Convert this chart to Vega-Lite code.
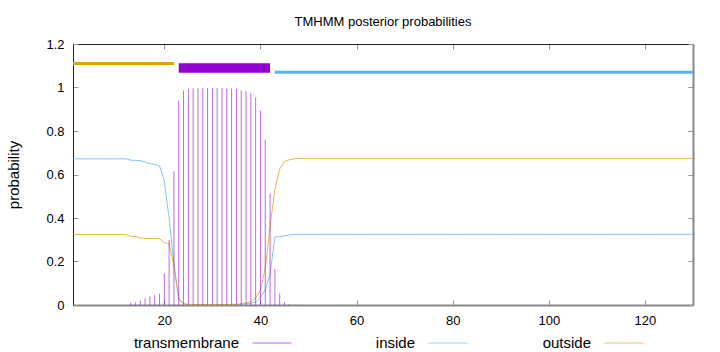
{
  "$schema": "https://vega.github.io/schema/vega-lite/v6.json",
  "width": 620,
  "height": 261,
  "autosize": {"type": "none"},
  "padding": {"left": 73, "top": 44, "right": 27, "bottom": 47},
  "background": "white",
  "title": {"text": "TMHMM posterior probabilities", "font": "Liberation Sans", "fontSize": 13, "fontWeight": "normal", "color": "black", "anchor": "middle", "offset": 9},
  "config": {
    "view": {"stroke": null},
    "axis": {"labelFont": "Liberation Sans", "labelFontSize": 13, "labelColor": "black", "titleFont": "Liberation Sans", "titleFontSize": 15, "titleFontWeight": "normal", "titleColor": "black", "grid": false, "tickColor": "#999", "tickSize": -5, "labelPadding": 14}
  },
  "datasets": {
    "segs": [
      {"series": "outside", "start": 1, "end": 22, "level": 1.11},
      {"series": "transmembrane", "start": 23, "end": 42, "level": 1.09},
      {"series": "inside", "start": 43, "end": 130, "level": 1.07}
    ],
    "probs": [
      {"pos": 1, "transmembrane": 0, "inside": 0.672, "outside": 0.324},
      {"pos": 2, "transmembrane": 0, "inside": 0.672, "outside": 0.324},
      {"pos": 3, "transmembrane": 0, "inside": 0.672, "outside": 0.324},
      {"pos": 4, "transmembrane": 0, "inside": 0.672, "outside": 0.324},
      {"pos": 5, "transmembrane": 0, "inside": 0.672, "outside": 0.324},
      {"pos": 6, "transmembrane": 0, "inside": 0.672, "outside": 0.324},
      {"pos": 7, "transmembrane": 0, "inside": 0.672, "outside": 0.324},
      {"pos": 8, "transmembrane": 0, "inside": 0.672, "outside": 0.324},
      {"pos": 9, "transmembrane": 0, "inside": 0.672, "outside": 0.324},
      {"pos": 10, "transmembrane": 0, "inside": 0.672, "outside": 0.324},
      {"pos": 11, "transmembrane": 0, "inside": 0.672, "outside": 0.324},
      {"pos": 12, "transmembrane": 0, "inside": 0.672, "outside": 0.323},
      {"pos": 13, "transmembrane": 0.010, "inside": 0.666, "outside": 0.316},
      {"pos": 14, "transmembrane": 0.012, "inside": 0.665, "outside": 0.315},
      {"pos": 15, "transmembrane": 0.020, "inside": 0.664, "outside": 0.309},
      {"pos": 16, "transmembrane": 0.030, "inside": 0.658, "outside": 0.306},
      {"pos": 17, "transmembrane": 0.040, "inside": 0.650, "outside": 0.306},
      {"pos": 18, "transmembrane": 0.045, "inside": 0.646, "outside": 0.306},
      {"pos": 19, "transmembrane": 0.052, "inside": 0.640, "outside": 0.305},
      {"pos": 20, "transmembrane": 0.145, "inside": 0.570, "outside": 0.286},
      {"pos": 21, "transmembrane": 0.300, "inside": 0.400, "outside": 0.283},
      {"pos": 22, "transmembrane": 0.615, "inside": 0.190, "outside": 0.180},
      {"pos": 23, "transmembrane": 0.940, "inside": 0.030, "outside": 0.025},
      {"pos": 24, "transmembrane": 0.986, "inside": 0.006, "outside": 0.005},
      {"pos": 25, "transmembrane": 0.995, "inside": 0.002, "outside": 0.002},
      {"pos": 26, "transmembrane": 0.996, "inside": 0.001, "outside": 0.001},
      {"pos": 27, "transmembrane": 0.997, "inside": 0.001, "outside": 0.001},
      {"pos": 28, "transmembrane": 0.998, "inside": 0.001, "outside": 0.001},
      {"pos": 29, "transmembrane": 0.998, "inside": 0.001, "outside": 0.001},
      {"pos": 30, "transmembrane": 0.998, "inside": 0.001, "outside": 0.001},
      {"pos": 31, "transmembrane": 0.997, "inside": 0.001, "outside": 0.001},
      {"pos": 32, "transmembrane": 0.997, "inside": 0.001, "outside": 0.001},
      {"pos": 33, "transmembrane": 0.996, "inside": 0.001, "outside": 0.002},
      {"pos": 34, "transmembrane": 0.995, "inside": 0.001, "outside": 0.003},
      {"pos": 35, "transmembrane": 0.994, "inside": 0.002, "outside": 0.003},
      {"pos": 36, "transmembrane": 0.986, "inside": 0.003, "outside": 0.006},
      {"pos": 37, "transmembrane": 0.983, "inside": 0.005, "outside": 0.010},
      {"pos": 38, "transmembrane": 0.974, "inside": 0.008, "outside": 0.016},
      {"pos": 39, "transmembrane": 0.954, "inside": 0.014, "outside": 0.030},
      {"pos": 40, "transmembrane": 0.894, "inside": 0.035, "outside": 0.070},
      {"pos": 41, "transmembrane": 0.761, "inside": 0.070, "outside": 0.170},
      {"pos": 42, "transmembrane": 0.513, "inside": 0.140, "outside": 0.360},
      {"pos": 43, "transmembrane": 0.166, "inside": 0.312, "outside": 0.530},
      {"pos": 44, "transmembrane": 0.053, "inside": 0.315, "outside": 0.625},
      {"pos": 45, "transmembrane": 0.013, "inside": 0.318, "outside": 0.660},
      {"pos": 46, "transmembrane": 0.004, "inside": 0.322, "outside": 0.668},
      {"pos": 47, "transmembrane": 0.002, "inside": 0.324, "outside": 0.672},
      {"pos": 48, "transmembrane": 0.001, "inside": 0.325, "outside": 0.674},
      {"pos": 49, "transmembrane": 0, "inside": 0.325, "outside": 0.674},
      {"pos": 50, "transmembrane": 0, "inside": 0.325, "outside": 0.674},
      {"pos": 51, "transmembrane": 0, "inside": 0.325, "outside": 0.674},
      {"pos": 52, "transmembrane": 0, "inside": 0.325, "outside": 0.674},
      {"pos": 53, "transmembrane": 0, "inside": 0.325, "outside": 0.674},
      {"pos": 54, "transmembrane": 0, "inside": 0.325, "outside": 0.674},
      {"pos": 55, "transmembrane": 0, "inside": 0.325, "outside": 0.674},
      {"pos": 56, "transmembrane": 0, "inside": 0.325, "outside": 0.674},
      {"pos": 57, "transmembrane": 0, "inside": 0.325, "outside": 0.674},
      {"pos": 58, "transmembrane": 0, "inside": 0.325, "outside": 0.674},
      {"pos": 59, "transmembrane": 0, "inside": 0.325, "outside": 0.674},
      {"pos": 60, "transmembrane": 0, "inside": 0.325, "outside": 0.674},
      {"pos": 61, "transmembrane": 0, "inside": 0.325, "outside": 0.674},
      {"pos": 62, "transmembrane": 0, "inside": 0.325, "outside": 0.674},
      {"pos": 63, "transmembrane": 0, "inside": 0.325, "outside": 0.674},
      {"pos": 64, "transmembrane": 0, "inside": 0.325, "outside": 0.674},
      {"pos": 65, "transmembrane": 0, "inside": 0.325, "outside": 0.674},
      {"pos": 66, "transmembrane": 0, "inside": 0.325, "outside": 0.674},
      {"pos": 67, "transmembrane": 0, "inside": 0.325, "outside": 0.674},
      {"pos": 68, "transmembrane": 0, "inside": 0.325, "outside": 0.674},
      {"pos": 69, "transmembrane": 0, "inside": 0.325, "outside": 0.674},
      {"pos": 70, "transmembrane": 0, "inside": 0.325, "outside": 0.674},
      {"pos": 71, "transmembrane": 0, "inside": 0.325, "outside": 0.674},
      {"pos": 72, "transmembrane": 0, "inside": 0.325, "outside": 0.674},
      {"pos": 73, "transmembrane": 0, "inside": 0.325, "outside": 0.674},
      {"pos": 74, "transmembrane": 0, "inside": 0.325, "outside": 0.674},
      {"pos": 75, "transmembrane": 0, "inside": 0.325, "outside": 0.674},
      {"pos": 76, "transmembrane": 0, "inside": 0.325, "outside": 0.674},
      {"pos": 77, "transmembrane": 0, "inside": 0.325, "outside": 0.674},
      {"pos": 78, "transmembrane": 0, "inside": 0.325, "outside": 0.674},
      {"pos": 79, "transmembrane": 0, "inside": 0.325, "outside": 0.674},
      {"pos": 80, "transmembrane": 0, "inside": 0.325, "outside": 0.674},
      {"pos": 81, "transmembrane": 0, "inside": 0.325, "outside": 0.674},
      {"pos": 82, "transmembrane": 0, "inside": 0.325, "outside": 0.674},
      {"pos": 83, "transmembrane": 0, "inside": 0.325, "outside": 0.674},
      {"pos": 84, "transmembrane": 0, "inside": 0.325, "outside": 0.674},
      {"pos": 85, "transmembrane": 0, "inside": 0.325, "outside": 0.674},
      {"pos": 86, "transmembrane": 0, "inside": 0.325, "outside": 0.674},
      {"pos": 87, "transmembrane": 0, "inside": 0.325, "outside": 0.674},
      {"pos": 88, "transmembrane": 0, "inside": 0.325, "outside": 0.674},
      {"pos": 89, "transmembrane": 0, "inside": 0.325, "outside": 0.674},
      {"pos": 90, "transmembrane": 0, "inside": 0.325, "outside": 0.674},
      {"pos": 91, "transmembrane": 0, "inside": 0.325, "outside": 0.674},
      {"pos": 92, "transmembrane": 0, "inside": 0.325, "outside": 0.674},
      {"pos": 93, "transmembrane": 0, "inside": 0.325, "outside": 0.674},
      {"pos": 94, "transmembrane": 0, "inside": 0.325, "outside": 0.674},
      {"pos": 95, "transmembrane": 0, "inside": 0.325, "outside": 0.674},
      {"pos": 96, "transmembrane": 0, "inside": 0.325, "outside": 0.674},
      {"pos": 97, "transmembrane": 0, "inside": 0.325, "outside": 0.674},
      {"pos": 98, "transmembrane": 0, "inside": 0.325, "outside": 0.674},
      {"pos": 99, "transmembrane": 0, "inside": 0.325, "outside": 0.674},
      {"pos": 100, "transmembrane": 0, "inside": 0.325, "outside": 0.674},
      {"pos": 101, "transmembrane": 0, "inside": 0.325, "outside": 0.674},
      {"pos": 102, "transmembrane": 0, "inside": 0.325, "outside": 0.674},
      {"pos": 103, "transmembrane": 0, "inside": 0.325, "outside": 0.674},
      {"pos": 104, "transmembrane": 0, "inside": 0.325, "outside": 0.674},
      {"pos": 105, "transmembrane": 0, "inside": 0.325, "outside": 0.674},
      {"pos": 106, "transmembrane": 0, "inside": 0.325, "outside": 0.674},
      {"pos": 107, "transmembrane": 0, "inside": 0.325, "outside": 0.674},
      {"pos": 108, "transmembrane": 0, "inside": 0.325, "outside": 0.674},
      {"pos": 109, "transmembrane": 0, "inside": 0.325, "outside": 0.674},
      {"pos": 110, "transmembrane": 0, "inside": 0.325, "outside": 0.674},
      {"pos": 111, "transmembrane": 0, "inside": 0.325, "outside": 0.674},
      {"pos": 112, "transmembrane": 0, "inside": 0.325, "outside": 0.674},
      {"pos": 113, "transmembrane": 0, "inside": 0.325, "outside": 0.674},
      {"pos": 114, "transmembrane": 0, "inside": 0.325, "outside": 0.674},
      {"pos": 115, "transmembrane": 0, "inside": 0.325, "outside": 0.674},
      {"pos": 116, "transmembrane": 0, "inside": 0.325, "outside": 0.674},
      {"pos": 117, "transmembrane": 0, "inside": 0.325, "outside": 0.674},
      {"pos": 118, "transmembrane": 0, "inside": 0.325, "outside": 0.674},
      {"pos": 119, "transmembrane": 0, "inside": 0.325, "outside": 0.674},
      {"pos": 120, "transmembrane": 0, "inside": 0.325, "outside": 0.674},
      {"pos": 121, "transmembrane": 0, "inside": 0.325, "outside": 0.674},
      {"pos": 122, "transmembrane": 0, "inside": 0.325, "outside": 0.674},
      {"pos": 123, "transmembrane": 0, "inside": 0.325, "outside": 0.674},
      {"pos": 124, "transmembrane": 0, "inside": 0.325, "outside": 0.674},
      {"pos": 125, "transmembrane": 0, "inside": 0.325, "outside": 0.674},
      {"pos": 126, "transmembrane": 0, "inside": 0.325, "outside": 0.674},
      {"pos": 127, "transmembrane": 0, "inside": 0.325, "outside": 0.674},
      {"pos": 128, "transmembrane": 0, "inside": 0.325, "outside": 0.674},
      {"pos": 129, "transmembrane": 0, "inside": 0.325, "outside": 0.674},
      {"pos": 130, "transmembrane": 0, "inside": 0.325, "outside": 0.674}
    ]
  },
  "layer": [
    {
      "data": {"name": "segs"},
      "layer": [
        {
          "transform": [{"filter": "datum.series != 'transmembrane'"}],
          "mark": {"type": "rule", "strokeWidth": 3, "strokeCap": "butt"},
          "encoding": {
            "x": {"field": "start", "type": "quantitative", "scale": {"domain": [1, 130], "nice": false, "zero": false},
                  "axis": {"orient": "top", "labels": false, "title": null, "values": [20, 40, 60, 80, 100, 120], "domainColor": "#222", "domainWidth": 1}},
            "x2": {"field": "end"},
            "y": {"field": "level", "type": "quantitative", "scale": {"domain": [0, 1.2], "nice": false},
                  "axis": {"orient": "right", "labels": false, "title": null, "values": [0, 0.2, 0.4, 0.6, 0.8, 1, 1.2], "domainColor": "#888", "domainWidth": 2}},
            "color": {"field": "series", "type": "nominal", "scale": {"domain": ["transmembrane", "inside", "outside"], "range": ["#9400d3", "#56b4e9", "#e69f00"]}}
          }
        },
        {
          "transform": [{"filter": "datum.series == 'transmembrane'"}],
          "mark": {"type": "rule", "strokeWidth": 9.5, "strokeCap": "butt"},
          "encoding": {
            "x": {"field": "start", "type": "quantitative"},
            "x2": {"field": "end"},
            "y": {"field": "level", "type": "quantitative"},
            "color": {"field": "series", "type": "nominal"}
          }
        }
      ]
    },
    {
      "data": {"name": "probs"},
      "transform": [{"fold": ["transmembrane", "inside", "outside"], "as": ["series", "value"]}],
      "layer": [
        {
          "transform": [{"filter": "datum.series != 'transmembrane'"}],
          "mark": {"type": "line", "strokeWidth": 1, "opacity": 0.75},
          "encoding": {
            "x": {"field": "pos", "type": "quantitative",
                  "axis": {"orient": "bottom", "title": null, "values": [20, 40, 60, 80, 100, 120], "domainColor": "#888", "domainWidth": 2}},
            "y": {"field": "value", "type": "quantitative",
                  "axis": {"orient": "left", "title": "probability", "titleFontWeight": "normal", "titleFontSize": 15, "titlePadding": 24, "values": [0, 0.2, 0.4, 0.6, 0.8, 1, 1.2], "format": "~g", "domainColor": "#222", "domainWidth": 1}},
            "color": {"field": "series", "type": "nominal",
                      "legend": {"orient": "none", "legendX": 179, "legendY": 279, "direction": "horizontal", "columns": 3, "title": null, "symbolType": "stroke", "symbolSize": 1521, "symbolStrokeWidth": 1, "symbolOpacity": 0.7, "labelAlign": "right", "labelOffset": -53, "labelFont": "Liberation Sans", "labelFontSize": 15, "labelColor": "black", "gridAlign": "all", "columnPadding": 72, "padding": 0}}
          }
        },
        {
          "transform": [{"filter": "datum.series == 'transmembrane' && datum.value > 0"}],
          "mark": {"type": "rule", "strokeWidth": 1, "opacity": 0.6},
          "encoding": {
            "x": {"field": "pos", "type": "quantitative"},
            "y": {"field": "value", "type": "quantitative"},
            "y2": {"datum": 0},
            "color": {"field": "series", "type": "nominal"}
          }
        }
      ]
    }
  ]
}
